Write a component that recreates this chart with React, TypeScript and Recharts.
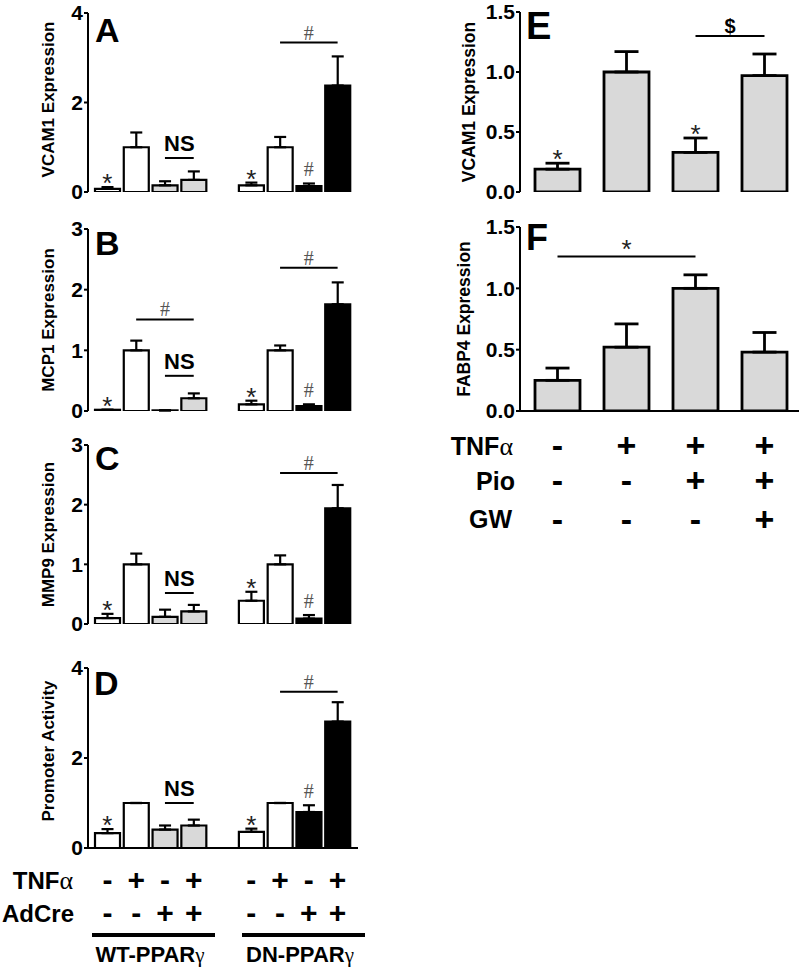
import React from 'react'
import { ComposedChart, Bar, Cell, XAxis, YAxis, ErrorBar, ReferenceLine, Scatter } from 'recharts'

const SANS = "'Liberation Sans', Arial, sans-serif"
const SERIF = "'Liberation Serif', 'Times New Roman', serif"

const W = '#ffffff'
const G = '#d9d9d9'
const K = '#000000'

// panels A-D: WT-PPARγ group, empty slot, DN-PPARγ group
const groupCats = ['WT-1', 'WT-2', 'WT-3', 'WT-4', 'gap', 'DN-1', 'DN-2', 'DN-3', 'DN-4']
const groupFills = [W, W, G, G, W, W, W, K, K]
const groupMarks = ['*', '', '', '', '', '*', '', '#', '']
const tnfSigns = ['-', '+', '-', '+', '', '-', '+', '-', '+']
const adCreSigns = ['-', '-', '+', '+', '', '-', '-', '+', '+']

const vcamMean = [0.07, 1.0, 0.15, 0.27, null, 0.15, 1.0, 0.13, 2.38]
const vcamUpper = [0.11, 1.33, 0.24, 0.46, null, 0.21, 1.23, 0.19, 3.03]
const mcpMean = [0.02, 1.0, 0.01, 0.21, null, 0.11, 1.0, 0.08, 1.76]
const mcpUpper = [0.02, 1.16, 0.01, 0.29, null, 0.17, 1.08, 0.11, 2.12]
const mmpMean = [0.1, 1.0, 0.12, 0.21, null, 0.39, 1.0, 0.09, 1.94]
const mmpUpper = [0.17, 1.18, 0.24, 0.32, null, 0.54, 1.15, 0.15, 2.33]
const promMean = [0.33, 1.0, 0.41, 0.5, null, 0.36, 1.0, 0.8, 2.81]
const promUpper = [0.42, 1.0, 0.5, 0.63, null, 0.43, 1.0, 0.95, 3.24]

// panels E-F: pioglitazone / GW experiment
const pioCats = ['ctrl', 'tnf', 'tnf+pio', 'tnf+pio+gw']
const pioFills = [G, G, G, G]
const tnfRow = ['-', '+', '+', '+']
const pioRow = ['-', '-', '+', '+']
const gwRow = ['-', '-', '-', '+']
const eMarks = ['*', '', '*', '']
const fMarks = ['', '', '', '']
const vcamEMean = [0.19, 1.0, 0.33, 0.97]
const vcamEUpper = [0.24, 1.17, 0.45, 1.15]
const fabpMean = [0.25, 0.52, 1.0, 0.48]
const fabpUpper = [0.35, 0.71, 1.11, 0.64]

type Sig = { from: string; to: string; y: number; text: string }
const sigA: Sig[] = [
  { from: 'WT-3', to: 'WT-4', y: 0.76, text: 'NS' },
  { from: 'DN-2', to: 'DN-4', y: 3.34, text: '#' },
]
const sigB: Sig[] = [
  { from: 'WT-2', to: 'WT-4', y: 1.51, text: '#' },
  { from: 'WT-3', to: 'WT-4', y: 0.58, text: 'NS' },
  { from: 'DN-2', to: 'DN-4', y: 2.36, text: '#' },
]
const sigC: Sig[] = [
  { from: 'WT-3', to: 'WT-4', y: 0.52, text: 'NS' },
  { from: 'DN-2', to: 'DN-4', y: 2.53, text: '#' },
]
const sigD: Sig[] = [
  { from: 'WT-3', to: 'WT-4', y: 1.0, text: 'NS' },
  { from: 'DN-2', to: 'DN-4', y: 3.47, text: '#' },
]
const sigE: Sig[] = [{ from: 'tnf+pio', to: 'tnf+pio+gw', y: 1.3, text: '$' }]
const sigF: Sig[] = [{ from: 'ctrl', to: 'tnf+pio', y: 1.26, text: '*' }]

const sigLabel = (text: string) => {
  if (text === '#') return { value: text, position: 'top', offset: 3, fill: '#555', fontSize: 20, fontFamily: SERIF }
  if (text === 'NS') return { value: text, position: 'top', offset: 7, fill: '#000', fontSize: 22, fontWeight: 700, fontFamily: SANS }
  if (text === '$') return { value: text, position: 'top', offset: 3, fill: '#000', fontSize: 20, fontWeight: 700, fontFamily: SANS }
  return { value: text, position: 'top', offset: -2, fill: '#222', fontSize: 26, fontFamily: SANS }
}

const MarkShape = (props: any) => {
  const { cx, cy, payload } = props
  if (!payload || !payload.mark || cy == null || isNaN(cy)) return <g />
  const star = payload.mark === '*'
  return (
    <text x={cx} y={star ? cy + 5 : cy - 7} textAnchor="middle" fontSize={star ? 26 : 20}
      fontFamily={star ? SANS : SERIF} fill={star ? '#222' : '#555'}>
      {payload.mark}
    </text>
  )
}

const SignTick = (props: any) => {
  const { x, y, payload, cats, rows, offsets, size } = props
  const i = cats.indexOf(payload.value)
  return (
    <g>
      {rows.map((r: string[], k: number) => (
        <text key={k} x={x} y={y + offsets[k] + size * 0.33} textAnchor="middle" fontSize={size}
          fontWeight={700} fontFamily={SANS} fill="#000">
          {r[i]}
        </text>
      ))}
    </g>
  )
}

const AxisTitle = (props: any) => {
  const { viewBox, text, cx, size, shift } = props
  const cy = viewBox.y + viewBox.height / 2 + (shift || 0)
  return (
    <text transform={`translate(${cx},${cy}) rotate(-90)`} textAnchor="middle" dy="0.35em"
      fontSize={size} fontWeight={700} fontFamily={SANS} fill="#000">
      {text}
    </text>
  )
}

function Panel(p: any) {
  const data = p.cats.map((c: string, i: number) => ({
    cat: c,
    mean: p.mean[i],
    err: p.mean[i] == null ? null : [0, p.upper[i] - p.mean[i]],
    markY: p.marks[i] ? p.upper[i] : null,
    mark: p.marks[i],
  }))
  return (
    <div style={{ position: 'absolute', left: p.left, top: p.top }}>
      <ComposedChart width={p.width} height={p.height} data={data} margin={p.margin}>
        <XAxis dataKey="cat" interval={0} height={p.xHeight} padding={p.padding}
          axisLine={{ stroke: '#000', strokeWidth: 2 }} tickLine={false} tickSize={0} tickMargin={0}
          tick={p.signs ? <SignTick cats={p.cats} rows={p.signs} offsets={p.signOffsets} size={p.signSize} /> : false} />
        <YAxis width={p.yWidth} domain={p.domain} ticks={p.ticks} tickFormatter={p.fmt} interval={0}
          axisLine={{ stroke: '#000', strokeWidth: 2 }} tickLine={{ stroke: '#000', strokeWidth: 2 }}
          tickSize={4} tickMargin={1} allowDataOverflow
          tick={{ fill: '#000', fontSize: 21, fontWeight: 700, fontFamily: SANS }}
          label={<AxisTitle text={p.title} cx={p.titleX} size={p.titleSize} shift={p.titleShift} />} />
        <Bar dataKey="mean" barSize={p.barSize} stroke="#000" strokeWidth={p.barStroke} isAnimationActive={false}>
          {data.map((_: any, i: number) => <Cell key={i} fill={p.fills[i]} />)}
          <ErrorBar dataKey="err" direction="y" width={p.cap} stroke="#000" strokeWidth={p.barStroke} />
        </Bar>
        <Scatter dataKey="markY" shape={<MarkShape />} isAnimationActive={false} />
        {p.sigs.map((s: Sig, i: number) => (
          <ReferenceLine key={i} segment={[{ x: s.from, y: s.y }, { x: s.to, y: s.y }]}
            stroke="#000" strokeWidth={2} label={sigLabel(s.text) as any} />
        ))}
      </ComposedChart>
    </div>
  )
}

const left = {
  left: 0, width: 362, yWidth: 88, padding: { left: 5, right: 6 }, cats: groupCats, fills: groupFills,
  marks: groupMarks, barSize: 25, cap: 6, barStroke: 2.2, titleX: 48, titleSize: 17,
}
const right = {
  left: 400, width: 400, yWidth: 120, padding: { left: 3, right: 0 }, cats: pioCats, fills: pioFills,
  barSize: 45, cap: 12, barStroke: 2.8, titleSize: 17.5,
  domain: [0, 1.5], ticks: [0, 0.5, 1, 1.5], fmt: (v: number) => v.toFixed(1),
}

export default function App() {
  return (
    <div style={{ position: 'relative', width: 800, height: 971, background: '#fff', overflow: 'hidden' }}>
      <style>{'body{margin:0}'}</style>
      <Panel {...left} top={0} height={212} margin={{ top: 13, right: 4, bottom: 20, left: 0 }} xHeight={0}
        mean={vcamMean} upper={vcamUpper} domain={[0, 4]} ticks={[0, 2, 4]} title="VCAM1 Expression"
        titleShift={-3} sigs={sigA} />
      <Panel {...left} top={215} height={216} margin={{ top: 14, right: 4, bottom: 20, left: 0 }} xHeight={0}
        mean={mcpMean} upper={mcpUpper} domain={[0, 3]} ticks={[0, 1, 2, 3]} title="MCP1 Expression" sigs={sigB} />
      <Panel {...left} top={430} height={214} margin={{ top: 15, right: 4, bottom: 20, left: 0 }} xHeight={0}
        mean={mmpMean} upper={mmpUpper} domain={[0, 3]} ticks={[0, 1, 2, 3]} title="MMP9 Expression" sigs={sigC} />
      <Panel {...left} top={650} height={290} margin={{ top: 18, right: 4, bottom: 2, left: 0 }} xHeight={90}
        mean={promMean} upper={promUpper} domain={[0, 4]} ticks={[0, 2, 4]} title="Promoter Activity"
        titleShift={-7} sigs={sigD} signs={[tnfSigns, adCreSigns]} signOffsets={[32, 65]} signSize={30} />
      <Panel {...right} top={0} height={212} margin={{ top: 12, right: 1, bottom: 20, left: 0 }} xHeight={0}
        mean={vcamEMean} upper={vcamEUpper} marks={eMarks} title="VCAM1 Expression" titleX={69} sigs={sigE} />
      <Panel {...right} top={215} height={330} margin={{ top: 12, right: 1, bottom: 4, left: 0 }} xHeight={130}
        mean={fabpMean} upper={fabpUpper} marks={fMarks} title="FABP4 Expression" titleX={64} sigs={sigF}
        signs={[tnfRow, pioRow, gwRow]} signOffsets={[35, 70, 109]} signSize={34} />
      <svg width={800} height={971} style={{ position: 'absolute', left: 0, top: 0, pointerEvents: 'none' }}
        fontFamily={SANS} fontWeight={700} fill="#000">
        <text x={95} y={42} fontSize={34}>A</text>
        <text x={95} y={255} fontSize={34}>B</text>
        <text x={95} y={470} fontSize={34}>C</text>
        <text x={94} y={695} fontSize={34}>D</text>
        <text x={526} y={39} fontSize={38}>E</text>
        <text x={526} y={250} fontSize={36}>F</text>
        <text x={73} y={889} fontSize={24} textAnchor="end">TNF<tspan fontFamily={SERIF} fontWeight={400} fontSize={26}>α</tspan></text>
        <text x={74} y={922} fontSize={24} textAnchor="end">AdCre</text>
        <line x1={92} x2={215} y1={935} y2={935} stroke="#000" strokeWidth={4} />
        <line x1={242} x2={365} y1={935} y2={935} stroke="#000" strokeWidth={4} />
        <text x={150} y={962} fontSize={22} textAnchor="middle">WT-PPAR<tspan fontFamily={SERIF} fontWeight={400} fontSize={21}>γ</tspan></text>
        <text x={300} y={962} fontSize={22} textAnchor="middle">DN-PPAR<tspan fontFamily={SERIF} fontWeight={400} fontSize={21}>γ</tspan></text>
        <text x={513} y={455} fontSize={25} textAnchor="end">TNF<tspan fontFamily={SERIF} fontWeight={400} fontSize={26}>α</tspan></text>
        <text x={515} y={490} fontSize={25} textAnchor="end">Pio</text>
        <text x={512} y={528} fontSize={25} textAnchor="end">GW</text>
      </svg>
    </div>
  )
}
